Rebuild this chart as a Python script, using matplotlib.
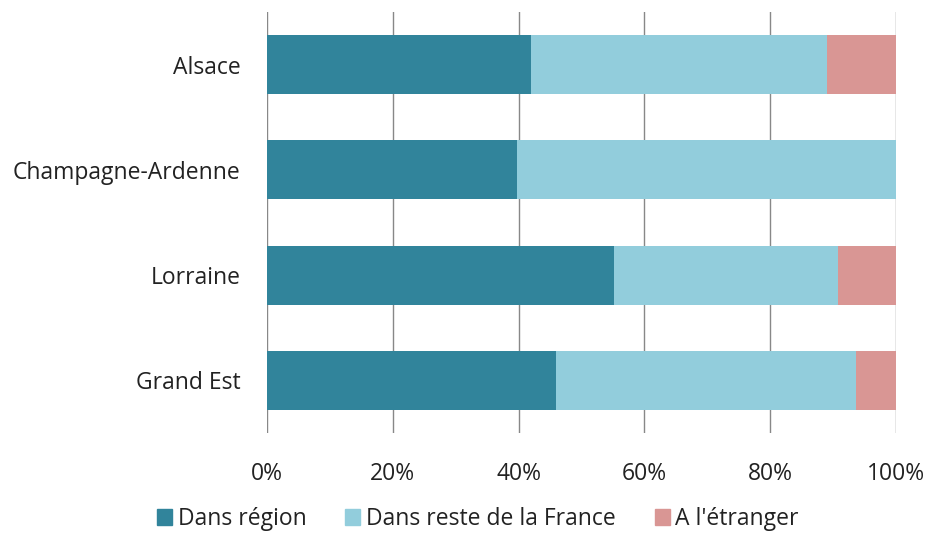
import matplotlib
matplotlib.use("Agg")
import matplotlib.pyplot as plt
from matplotlib.ticker import FuncFormatter
from matplotlib.patches import Patch

categories = ["Alsace", "Champagne-Ardenne", "Lorraine", "Grand Est"]
series_names = ["Dans région", "Dans reste de la France", "A l'étranger"]
dans_region = [41.9, 39.7, 55.1, 45.9]
reste_france = [47.1, 60.3, 35.7, 47.8]
etranger = [11.0, 0.0, 9.2, 6.3]
colors = ["#31849B", "#92CDDC", "#D99694"]

plt.rcParams['font.family'] = ['Open Sans', 'DejaVu Sans']

fig = plt.figure(figsize=(9.41, 5.33), dpi=100)
ax = fig.add_axes([267/941, (533-433)/533, 629/941, 421/533])

ypos = list(range(len(categories)))
left = [0.0]*len(categories)
for vals, col, name in zip([dans_region, reste_france, etranger], colors, series_names):
    ax.barh(ypos, vals, left=left, color=col, height=0.56, label=name, zorder=3)
    left = [l + v for l, v in zip(left, vals)]

ax.set_xlim(0, 100)
ax.set_ylim(len(categories) - 0.5, -0.5)
ax.set_yticks(ypos)
ax.set_yticklabels(categories)
ax.set_xticks([0, 20, 40, 60, 80, 100])
ax.xaxis.set_major_formatter(FuncFormatter(lambda v, p: f"{int(v)}%"))
ax.grid(axis='x', color='#888888', linewidth=1.0, zorder=0)
for s in ax.spines.values():
    s.set_visible(False)
ax.tick_params(axis='both', length=0, labelsize=16.5, colors='#222222')
ax.tick_params(axis='x', pad=21)
ax.tick_params(axis='y', pad=19)

handles = [Patch(color=c, label=n) for c, n in zip(colors, series_names)]
fig.legend(handles=handles, loc='center', bbox_to_anchor=(478/941, 1 - 519/533),
           ncol=3, frameon=False, fontsize=16.5, handlelength=0.65, handleheight=0.65,
           handletextpad=0.25, columnspacing=1.7, labelcolor='#222222')

fig.savefig("out.png", dpi=100)
